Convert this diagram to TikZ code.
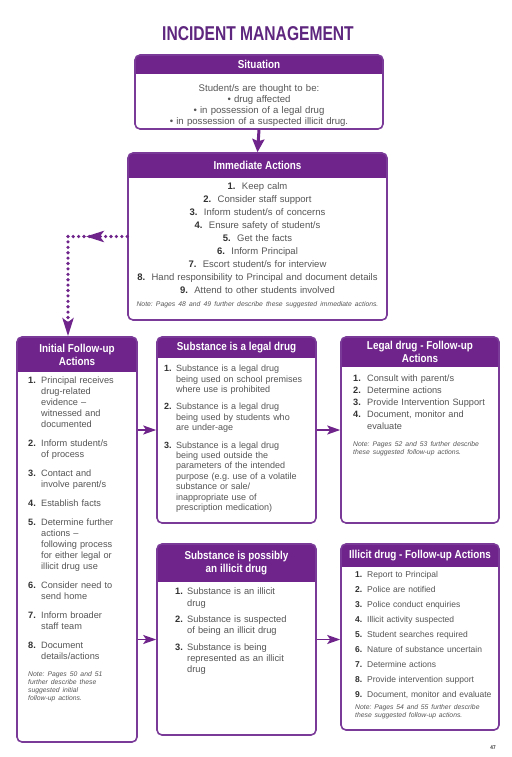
\documentclass[tikz,border=0pt]{standalone}
\usepackage{fontspec}
\setmainfont{Liberation Sans}
\newfontfamily\condfont{Liberation Sans}[FakeStretch=0.86]
\newfontfamily\titlefont{Liberation Sans}[FakeStretch=0.78]
\usetikzlibrary{arrows.meta,decorations.markings,fit}
\definecolor{purp}{RGB}{110,36,138}
\definecolor{framec}{RGB}{122,58,152}
\definecolor{txtc}{RGB}{85,85,85}
\definecolor{numc}{RGB}{50,50,50}
\definecolor{ttlc}{RGB}{94,38,126}
\frenchspacing
\newcommand{\nb}[1]{{\bfseries\color{numc}#1}}
\newcommand{\nitm}[3][12pt]{\hangindent=#1\hangafter=1\noindent\makebox[#1][l]{\nb{#2}}#3\par}
\newcommand{\notefont}{\itshape\fontsize{6.8}{8.2}\selectfont}
\newcommand{\panel}[6]{%
  \begin{scope}
    \clip[rounded corners=5pt] (#2,#3) rectangle (#4,#5);
    \fill[purp] (#2,#3) rectangle (#4,#6);
  \end{scope}
  \node[panelframe, fit={(#2,#3) (#4,#5)}] (#1) {};
}
\begin{document}
\begin{tikzpicture}[x=1pt,y=-1pt,
  panelframe/.style={draw=framec, line width=1.6pt, rounded corners=5pt, inner sep=0pt},
  hdr/.style={text=white, font=\condfont\bfseries\fontsize{11.5}{13}\selectfont, align=center, inner sep=0pt},
  body/.style={inner sep=0pt, text=txtc},
  link/.style={draw=purp, line width=1.8pt, -{Stealth[length=13pt,width=9pt,inset=3pt]}},
  dotline/.style={draw=purp, line width=3.6pt, line cap=round, dash pattern=on 0pt off 5.4pt},
]
\fill[white] (0,0) rectangle (511,757);
\useasboundingbox (0,0) rectangle (511,757);

\node[text=ttlc, font=\titlefont\bfseries\fontsize{20}{22}\selectfont, inner sep=0pt] (title) at (258,34) {INCIDENT MANAGEMENT};

% Situation
\panel{sit}{135}{55}{383}{129}{74}
\node[hdr] (sith) at (259,64.5) {Situation};
\node[body, anchor=north, text width=240pt, align=center, font=\fontsize{9.6}{11}\selectfont] (sitt) at (259,84)
 {Student/s are thought to be:\\ \textbullet\ drug affected\\ \textbullet\ in possession of a legal drug\\ \textbullet\ in possession of a suspected illicit drug.};

% Immediate actions
\panel{imm}{128}{153}{387}{320}{178}
\node[hdr] (immh) at (257.5,165.5) {Immediate Actions};
\node[body, anchor=north, text width=255pt, align=center, font=\fontsize{9.5}{13}\selectfont] (immt) at (257.5,182)
 {\nb{1.}\ \ Keep calm\\
  \nb{2.}\ \ Consider staff support\\
  \nb{3.}\ \ Inform student/s of concerns\\
  \nb{4.}\ \ Ensure safety of student/s\\
  \nb{5.}\ \ Get the facts\\
  \nb{6.}\ \ Inform Principal\\
  \nb{7.}\ \ Escort student/s for interview\\
  \nb{8.}\ \ Hand responsibility to Principal and document details\\
  \nb{9.}\ \ Attend to other students involved\\
  {\notefont Note: Pages 48 and 49 further describe these suggested immediate actions.}};

\draw[draw=purp, line width=3pt, -{Stealth[length=13pt,width=12pt,inset=2pt]}] (sit.south) -- (imm.north);

% Initial follow-up
\panel{init}{17}{337}{137}{742}{372}
\node[hdr] (inith) at (77,355) {Initial Follow-up\\Actions};
\node[body, anchor=north west, text width=108pt, font=\fontsize{9.2}{10.8}\selectfont] (initt) at (28,377)
 {\raggedright\setlength{\parskip}{8.5pt}%
  \nitm[13pt]{1.}{Principal receives\newline drug-related\newline evidence --\newline witnessed and\newline documented}
  \nitm[13pt]{2.}{Inform student/s\newline of process}
  \nitm[13pt]{3.}{Contact and\newline involve parent/s}
  \nitm[13pt]{4.}{Establish facts}
  \nitm[13pt]{5.}{Determine further\newline actions --\newline following process\newline for either legal or\newline illicit drug use}
  \nitm[13pt]{6.}{Consider need to\newline send home}
  \nitm[13pt]{7.}{Inform broader\newline staff team}
  \nitm[13pt]{8.}{Document\newline details/actions}
  {\notefont\noindent Note: Pages 50 and 51\newline further describe these\newline suggested initial\newline follow-up actions.\par}};

% Substance is a legal drug
\panel{subl}{157}{337}{316}{523}{358}
\node[hdr] (sublh) at (236.5,347.5) {Substance is a legal drug};
\node[body, anchor=north west, text width=150pt, font=\fontsize{9}{10.4}\selectfont] (sublt) at (164,365)
 {\raggedright\setlength{\parskip}{7pt}%
  \nitm{1.}{Substance is a legal drug\newline being used on school premises\newline where use is prohibited}
  \nitm{2.}{Substance is a legal drug\newline being used by students who\newline are under-age}
  \nitm{3.}{Substance is a legal drug\newline being used outside the\newline parameters of the intended\newline purpose (e.g. use of a volatile\newline substance or sale/\newline inappropriate use of\newline prescription medication)}};

% Legal drug follow-up
\panel{legf}{341}{337}{499}{523}{367}
\node[hdr] (legfh) at (420,352) {Legal drug - Follow-up\\Actions};
\node[body, anchor=north west, text width=145pt, font=\fontsize{9.2}{12}\selectfont] (legft) at (353,375)
 {\raggedright\setlength{\parskip}{0pt}%
  \nitm[14pt]{1.}{Consult with parent/s}
  \nitm[14pt]{2.}{Determine actions}
  \nitm[14pt]{3.}{Provide Intervention Support}
  \nitm[14pt]{4.}{Document, monitor and\newline evaluate}
  \vspace{8pt}
  {\notefont\noindent Note: Pages 52 and 53 further describe\newline these suggested follow-up actions.\par}};

% Substance possibly illicit
\panel{subi}{157}{544}{316}{735}{582}
\node[hdr] (subih) at (236.5,563) {Substance is possibly\\an illicit drug};
\node[body, anchor=north west, text width=135pt, font=\fontsize{9.3}{11.3}\selectfont] (subit) at (175,588)
 {\raggedright\setlength{\parskip}{5pt}%
  \nitm{1.}{Substance is an illicit\newline drug}
  \nitm{2.}{Substance is suspected\newline of being an illicit drug}
  \nitm{3.}{Substance is being\newline represented as an illicit\newline drug}};

% Illicit drug follow-up
\panel{illf}{341}{544}{499}{730}{567}
\node[hdr] (illfh) at (420,555.5) {Illicit drug - Follow-up Actions};
\node[body, anchor=north west, text width=140pt, font=\fontsize{8.5}{15}\selectfont] (illft) at (355,571)
 {\raggedright\setlength{\parskip}{0pt}%
  \nitm{1.}{Report to Principal}
  \nitm{2.}{Police are notified}
  \nitm{3.}{Police conduct enquiries}
  \nitm{4.}{Illicit activity suspected}
  \nitm{5.}{Student searches required}
  \nitm{6.}{Nature of substance uncertain}
  \nitm{7.}{Determine actions}
  \nitm{8.}{Provide intervention support}
  \nitm{9.}{Document, monitor and evaluate}
  \vspace{4pt}
  {\notefont\noindent Note: Pages 54 and 55 further describe\newline these suggested follow-up actions.\par}};

% dotted connector
\coordinate (dc) at (68,236.5);
\draw[dotline, postaction={decorate}, decoration={markings, mark=at position 0.7 with {\arrow{Stealth[length=18pt,width=11pt,inset=4pt]}}}] (imm.west) -- (dc);
\draw[dotline, -{Stealth[length=18pt,width=11pt,inset=4pt]}] (dc) -- (dc |- init.north);

% links
\draw[link] (init.east |- subl.west) -- (subl.west);
\draw[link] (init.east |- subi.west) -- (subi.west);
\draw[link] (subl.east) -- (legf.west);
\draw[link] (subi.east) -- (illf.west |- subi.east);

\node[text=numc, font=\condfont\bfseries\fontsize{5.5}{6}\selectfont, inner sep=0pt] (pg) at (493,748) {47};
\end{tikzpicture}
\end{document}
